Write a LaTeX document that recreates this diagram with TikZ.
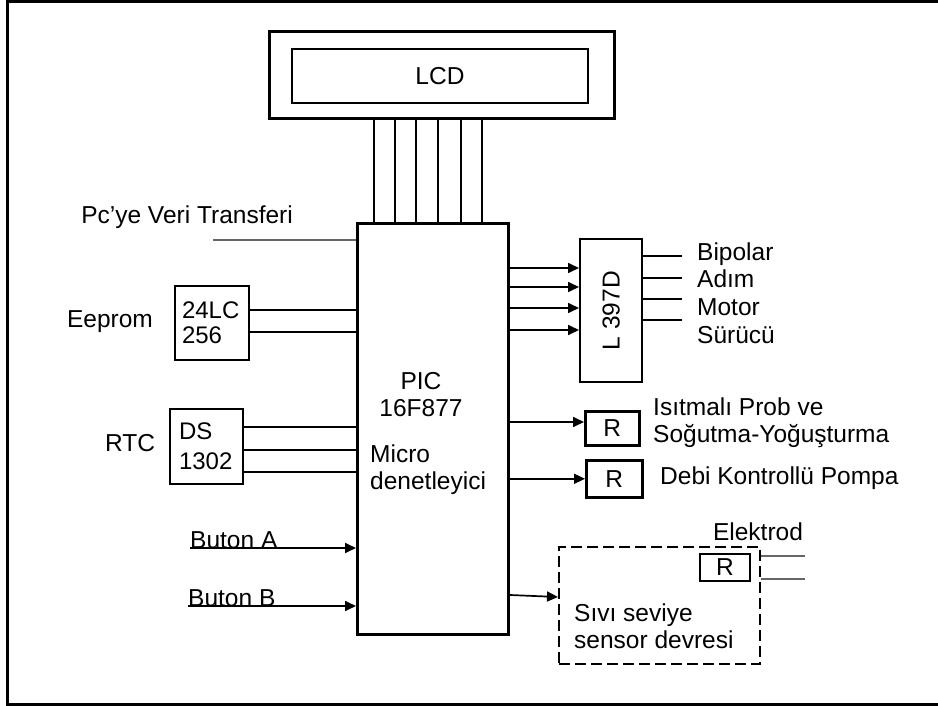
\documentclass[tikz,border=0pt]{standalone}
\usepackage{fontspec}
\setmainfont{Liberation Sans}
\usetikzlibrary{arrows.meta,positioning}

\begin{document}
\begin{tikzpicture}[x=1pt,y=-1pt,
    lbl/.style={font=\fontsize{24.5}{27}\selectfont, inner sep=0pt},
    blk/.style={draw, line width=2.2pt, inner sep=0pt, anchor=north west},
    wire/.style={line width=1.7pt},
    faint/.style={line width=1.1pt, black!60},
    arr/.style={wire, -{Triangle[length=11pt,width=10pt]}}]
    \useasboundingbox (0,0) rectangle (938,706);
    \draw[line width=3pt] (938,1.5) -- (7,1.5) -- (7,704) -- (938,704);

    \node[blk, line width=3pt, minimum width=345, minimum height=87] (lcdbox) at (268,30) {};
    \node[blk, line width=2pt, minimum width=296, minimum height=54, lbl] (lcd) at (291,48) {LCD};
    \node[blk, line width=3pt, minimum width=151, minimum height=411] (pic) at (356,222) {};
    \node[lbl, align=center] (picname) at (421,395) {PIC\\16F877};
    \node[lbl, align=left, anchor=west] (picdesc) at (370,470) {Micro\\denetleyici};
    \foreach \x in {374,395,416,438,461,482}{\draw[wire] (lcdbox.south -| \x,0) -- (pic.north -| \x,0);}

    \node[lbl, anchor=east] (pc) at (293,217) {Pc’ye Veri Transferi};
    \coordinate (pcend) at (213,240);
    \draw[faint] (pcend) -- (pcend -| pic.west);

    \node[blk, line width=2pt, minimum width=74, minimum height=74, lbl, align=left,
        text width=60pt, inner xsep=7pt, font=\fontsize{24}{25}\selectfont] (eeprom) at (174,285) {24LC\\256};
    \node[lbl] (eepromlbl) at (110,322) {Eeprom};
    \foreach \y in {310,332}{\draw[wire] (eeprom.east |- 0,\y) -- (pic.west |- 0,\y);}

    \node[blk, line width=2pt, minimum width=73, minimum height=75, lbl, align=left,
        text width=55pt, inner xsep=9pt, font=\fontsize{24}{30}\selectfont] (rtc) at (169,408) {DS\\1302};
    \node[lbl] (rtclbl) at (130,443) {RTC};
    \foreach \y in {427,450,472}{\draw[wire] (rtc.east |- 0,\y) -- (pic.west |- 0,\y);}

    \node[lbl, anchor=base west] (butA) at (190,548) {Buton A};
    \node[lbl, anchor=base west] (butB) at (188,606) {Buton B};
    \draw[arr] (butA.base west) -- (butA.base west -| pic.west);
    \draw[arr] (butB.base west) -- (butB.base west -| pic.west);

    \node[blk, line width=2.4pt, minimum width=62, minimum height=143] (drv) at (579,238) {};
    \node[lbl, rotate=90] (drvlbl) at (drv.center) {L 397D};
    \foreach \y in {268,287,308,330}{\draw[arr] (pic.east |- 0,\y) -- (drv.west |- 0,\y);}
    \node[lbl, anchor=west, align=left, font=\fontsize{24.5}{27.7}\selectfont] (motor) at (697,293) {Bipolar\\Adım\\Motor\\Sürücü};
    \foreach \y in {256,278,299,320}{\draw[wire, shorten >=15pt] (drv.east |- 0,\y) -- (motor.west |- 0,\y);}

    \node[blk, line width=2.6pt, minimum width=54, minimum height=34, lbl] (r1) at (584,410) {R};
    \draw[arr] (pic.east |- 0,422) -- (r1.west |- 0,422);
    \node[lbl, anchor=west, align=left] (heat) at (653,423) {Isıtmalı Prob ve\\Soğutma-Yoğuşturma};

    \node[blk, line width=2.6pt, minimum width=56, minimum height=37, lbl] (r2) at (585,459) {R};
    \draw[arr] (pic.east |- r2.west) -- (r2.west);
    \node[lbl, anchor=west] (pump) at (660,478) {Debi Kontrollü Pompa};

    \node[blk, line width=2.4pt, dash pattern=on 11pt off 5pt, minimum width=201, minimum height=117] (sensor) at (558,546) {};
    \node[blk, line width=2pt, minimum width=50, minimum height=27, lbl] (r3) at (699,553) {R};
    \node[lbl, align=left, anchor=west] (sensortxt) at (574,626) {Sıvı seviye\\sensor devresi};
    \node[lbl] (elek) at (758,532) {Elektrod};
    \foreach \y in {556,579}{\draw[faint] (sensor.east |- 0,\y) -- ++(44,0);}
    \draw[arr] (pic.east |- 0,595) -- (sensor.west |- 0,597);
\end{tikzpicture}
\end{document}
